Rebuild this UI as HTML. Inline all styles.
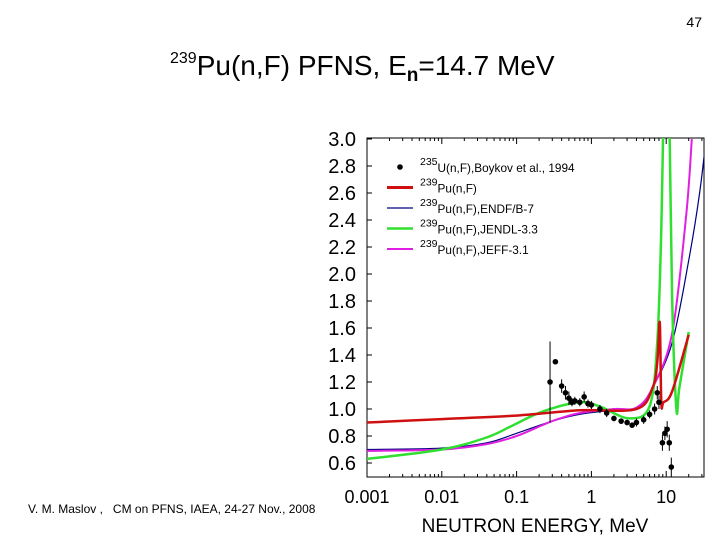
<!DOCTYPE html>
<html><head><meta charset="utf-8"><style>
body{margin:0;background:#fff;width:720px;height:540px;overflow:hidden;font-family:"Liberation Sans",Arial,sans-serif}
svg text{font-family:"Liberation Sans",Arial,sans-serif}
</style></head><body>
<svg id="chart" width="720" height="540" viewBox="0 0 720 540">
<text x="702" y="27" font-size="14" text-anchor="end">47</text>
<text x="170" y="75" font-size="28"><tspan font-size="16" dy="-12">239</tspan><tspan dy="12">Pu(n,F) PFNS, E</tspan><tspan font-size="19" font-weight="bold" dy="6">n</tspan><tspan dy="-6">=14.7  MeV</tspan></text>
<text x="28" y="513" font-size="12" xml:space="preserve">V. M. Maslov ,   CM on PFNS, IAEA, 24-27 Nov., 2008</text>
<text x="535" y="532" font-size="19" text-anchor="middle">NEUTRON ENERGY, MeV</text>
<rect x="367" y="138" width="337" height="339" fill="none" stroke="#000" stroke-width="1"/>
<g id="axes"></g>
<g id="series"></g>
<g id="legend"></g>
</svg>
<script>
const yTicks=[3.0,2.8,2.6,2.4,2.2,2.0,1.8,1.6,1.4,1.2,1.0,0.8,0.6];
const xTicks=[0.001,0.01,0.1,1,10];
const xTickLabels=["0.001","0.01","0.1","1","10"];
const redE=[0.001,0.01,0.09,0.7,4,6.6,7.6,8.2,8.6,9.2,12,20];
const redV=[0.90,0.925,0.95,0.99,1.0,1.16,1.35,1.64,1.05,1.05,1.13,1.55];
const greenE=[0.001,0.01,0.04,0.09,0.22,0.69,1.28,3.2,6,7.6,8.6,9.2,10,11,12,13.7,15,20];
const greenV=[0.63,0.70,0.79,0.88,0.98,1.05,1.02,0.93,1.02,1.5,2.33,3.2,3.5,3.2,1.83,1.0,1.16,1.57];
const blueE=[0.001,0.01,0.04,0.1,0.3,0.69,2,4,6.6,12,20,28,34];
const blueV=[0.70,0.71,0.75,0.82,0.91,0.96,0.99,1.0,1.16,1.49,2.1,2.6,3.0];
const magE=[0.001,0.01,0.04,0.1,0.3,0.69,2,4,6.6,12,18.6,22];
const magV=[0.69,0.70,0.74,0.80,0.91,0.97,1.0,1.01,1.16,1.56,2.45,3.0];
const expE=[0.28,0.33,0.4,0.45,0.5,0.55,0.6,0.7,0.8,0.9,1,1.3,1.6,2,2.5,3,3.5,4,5,6,7,7.6,8,8.9,9.6,10.3,11,11.7];
const expV=[1.2,1.35,1.17,1.12,1.08,1.05,1.06,1.05,1.09,1.04,1.03,1.0,0.97,0.93,0.91,0.9,0.88,0.9,0.92,0.96,1.0,1.12,1.05,0.75,0.82,0.85,0.75,0.57];
const expErr=[0.3,0,0.05,0.05,0.05,0.03,0.03,0.03,0.04,0.03,0.03,0.03,0.03,0.02,0.02,0.02,0.02,0.03,0.03,0.03,0.04,0.05,0.05,0.06,0.05,0.06,0.06,0.07];
const NS="http://www.w3.org/2000/svg";
function xs(E){return 367+(Math.log10(E)+3)*74.8;}
function ys(v){return 139+(3-v)*135;}
function mk(t,a,p){const e=document.createElementNS(NS,t);for(const k in a)e.setAttribute(k,a[k]);p.appendChild(e);return e;}
const ax=document.getElementById('axes');
yTicks.forEach(v=>{
  const t=mk('text',{x:356,y:ys(v)+7,'font-size':20,'text-anchor':'end'},ax);t.textContent=v.toFixed(1);
  
  
  mk('line',{x1:367,x2:372,y1:ys(v),y2:ys(v),stroke:'#000'},ax);
});
xTicks.forEach((E,i)=>{
  const t=mk('text',{x:xs(E),y:503,'font-size':18,'text-anchor':'middle'},ax);t.textContent=xTickLabels[i];
  
  
  for(let m=1;m<10;m++){const x=xs(E*m);if(x>704)break;const l=m==1?6:3;
    mk('line',{x1:x,x2:x,y1:477,y2:477-l,stroke:'#000'},ax);mk('line',{x1:x,x2:x,y1:138,y2:138+l,stroke:'#000'},ax);}
});
const sg=document.getElementById('series');
const clip=mk('clipPath',{id:'cp'},sg);mk('rect',{x:367,y:138,width:337,height:339},clip);
function line(E,V,c,w,name){
  const P=E.map((e,i)=>[xs(e),ys(V[i])]);
  let d='M'+P[0][0].toFixed(1)+','+P[0][1].toFixed(1);
  for(let i=0;i<P.length-1;i++){
    const p0=P[Math.max(0,i-1)],p1=P[i],p2=P[i+1],p3=P[Math.min(P.length-1,i+2)];
    const c1=[p1[0]+(p2[0]-p0[0])/6,p1[1]+(p2[1]-p0[1])/6],c2=[p2[0]-(p3[0]-p1[0])/6,p2[1]-(p3[1]-p1[1])/6];
    d+='C'+c1.map(n=>n.toFixed(1)).join(',')+' '+c2.map(n=>n.toFixed(1)).join(',')+' '+p2.map(n=>n.toFixed(1)).join(',');
  }
  const p=mk('path',{d:d,fill:'none',stroke:c,'stroke-width':w,'clip-path':'url(#cp)','stroke-linejoin':'round'},sg);
  
  
}
line(blueE,blueV,'#000080',1.2,'endf-line');
line(magE,magV,'#e020e0',2,'jeff-line');
line(greenE,greenV,'#30e030',2.5,'jendl-line');
line(redE,redV,'#d01010',2.5,'pu239-line');
expE.forEach((e,i)=>{
  const x=xs(e),y=ys(expV[i]);
  if(expErr[i]>0)mk('line',{x1:x,x2:x,y1:ys(expV[i]+expErr[i]),y2:ys(expV[i]-expErr[i]),stroke:'#000'},sg);
  const c=mk('circle',{cx:x,cy:y,r:2.8,fill:'#000'},sg);
  
  
});
const lg=document.getElementById('legend');
const leg=[['●','#000','235','U(n,F),Boykov et al., 1994',0],['','#d01010','239','Pu(n,F)',3],['','#000080','239','Pu(n,F),ENDF/B-7',1.2],['','#30e030','239','Pu(n,F),JENDL-3.3',2.5],['','#e020e0','239','Pu(n,F),JEFF-3.1',2]];
leg.forEach((r,i)=>{
  const y=167+i*20.5;
  if(r[4])mk('line',{x1:387,x2:413,y1:y,y2:y,stroke:r[1],'stroke-width':r[4]},lg);
  else mk('circle',{cx:400,cy:y,r:2.8,fill:'#000'},lg);
  const t=mk('text',{x:420,y:y+5,'font-size':11.8},lg);
  t.innerHTML='<tspan font-size="10.5" dy="-7">'+r[2]+'</tspan><tspan dy="7">'+r[3]+'</tspan>';
  
  
});
</script>
</body></html>
